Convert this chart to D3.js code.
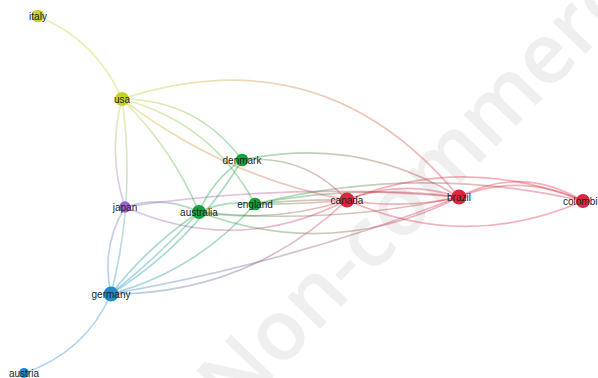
<!DOCTYPE html>
<html>
<head>
<meta charset="utf-8">
<script src="https://cdn.jsdelivr.net/npm/d3@7"></script>
<style>
  body { margin: 0; background: #fff; }
  svg { display: block; }
  .label { font-family: "Liberation Sans", Arial, sans-serif; font-size: 10px; fill: #1e1e1e; }
  .marca { font-family: "Open Sans", "Liberation Sans", sans-serif; font-size: 84px; font-weight: 600; fill: #efefef; }
</style>
</head>
<body>
<svg width="598" height="378"></svg>
<script>
// nodos (coordenadas del mapa, peso, cluster)
const paises  = ['italy', 'usa', 'denmark', 'japan', 'australia', 'england', 'canada', 'brazil', 'colombia', 'germany', 'austria'];
const mapaX   = [38, 122, 242, 125, 199, 255, 347, 459, 583, 111, 24];
const mapaY   = [16, 99, 160, 207, 212, 204, 200, 197, 201, 294, 373];
const pesos   = [5, 6, 5, 4, 6, 5, 7, 7, 6, 7, 3];
const cluster = [1, 1, 2, 4, 2, 2, 0, 0, 0, 3, 3];

// enlaces: origen, destino, curvatura
const origen  = ['italy', 'usa', 'usa', 'usa', 'usa', 'usa', 'usa', 'usa', 'japan', 'japan', 'japan', 'japan',
                 'australia', 'australia', 'australia', 'australia', 'australia', 'australia', 'australia',
                 'denmark', 'denmark', 'england', 'england', 'england', 'england',
                 'germany', 'germany', 'germany', 'germany', 'germany',
                 'canada', 'canada', 'canada', 'canada', 'brazil', 'brazil'];
const destino = ['usa', 'brazil', 'canada', 'denmark', 'england', 'australia', 'japan', 'germany', 'germany', 'australia', 'canada', 'brazil',
                 'germany', 'germany', 'denmark', 'england', 'canada', 'brazil', 'brazil',
                 'canada', 'brazil', 'canada', 'canada', 'brazil', 'colombia',
                 'denmark', 'england', 'canada', 'austria', 'brazil',
                 'brazil', 'brazil', 'colombia', 'colombia', 'colombia', 'colombia'];
const curva   = [-0.2, -0.34, 0.12, -0.25, -0.22, -0.1, 0.15, -0.1, 0.2, -0.2, 0.24, -0.06,
                 0.08, -0.04, -0.15, -0.15, 0.12, 0.22, 0.08,
                 -0.25, -0.2, 0.03, -0.03, -0.08, -0.12,
                 0.12, 0.15, 0.2, -0.22, 0.05,
                 -0.18, 0.1, -0.2, 0.22, -0.22, -0.28];

const colores = ['#e0253f', '#c4d22e', '#13a23c', '#1d8bce', '#9564c6'];

const svg = d3.select('svg');
const ancho = +svg.attr('width');
const altura = +svg.attr('height');

const xScale = d3.scaleLinear().domain([0, 598]).range([0, ancho]);
const yScale = d3.scaleLinear().domain([0, 378]).range([0, altura]);
const rScale = d3.scaleSqrt().domain([0, 7]).range([0, 7.5]);

const nodos = paises.map((p, i) => ({
  nombre: p, x: xScale(mapaX[i]), y: yScale(mapaY[i]), r: rScale(pesos[i]), color: colores[cluster[i]]
}));
const porNombre = new Map(nodos.map(n => [n.nombre, n]));
const enlaces = origen.map((o, i) => ({ s: porNombre.get(o), t: porNombre.get(destino[i]), k: curva[i] }));

// marca de agua
svg.append('text')
  .attr('class', 'marca')
  .attr('transform', 'translate(234,418) rotate(-46)')
  .text('Non-commercial');

const defs = svg.append('defs');
enlaces.forEach((e, i) => {
  const g = defs.append('linearGradient')
    .attr('id', 'g' + i)
    .attr('gradientUnits', 'userSpaceOnUse')
    .attr('x1', e.s.x).attr('y1', e.s.y)
    .attr('x2', e.t.x).attr('y2', e.t.y);
  g.append('stop').attr('offset', '0%').attr('stop-color', e.s.color);
  g.append('stop').attr('offset', '100%').attr('stop-color', e.t.color);
});

const camino = e => {
  const dx = e.t.x - e.s.x, dy = e.t.y - e.s.y;
  const cx = (e.s.x + e.t.x) / 2 - dy * e.k;
  const cy = (e.s.y + e.t.y) / 2 + dx * e.k;
  const p = d3.path();
  p.moveTo(e.s.x, e.s.y);
  p.quadraticCurveTo(cx, cy, e.t.x, e.t.y);
  return p.toString();
};

svg.append('g').selectAll('path').data(enlaces)
  .enter().append('path')
  .attr('d', camino)
  .attr('fill', 'none')
  .attr('stroke', (d, i) => `url(#g${i})`)
  .attr('stroke-width', 1.7)
  .attr('stroke-opacity', 0.36);

svg.append('g').selectAll('circle').data(nodos)
  .enter().append('circle')
  .attr('cx', d => d.x).attr('cy', d => d.y)
  .attr('r', d => d.r)
  .attr('fill', d => d.color);

svg.append('g').selectAll('text').data(nodos)
  .enter().append('text')
  .attr('class', 'label')
  .attr('x', d => d.x).attr('y', d => d.y + 3.5)
  .attr('text-anchor', 'middle')
  .text(d => d.nombre);
</script>
</body>
</html>
